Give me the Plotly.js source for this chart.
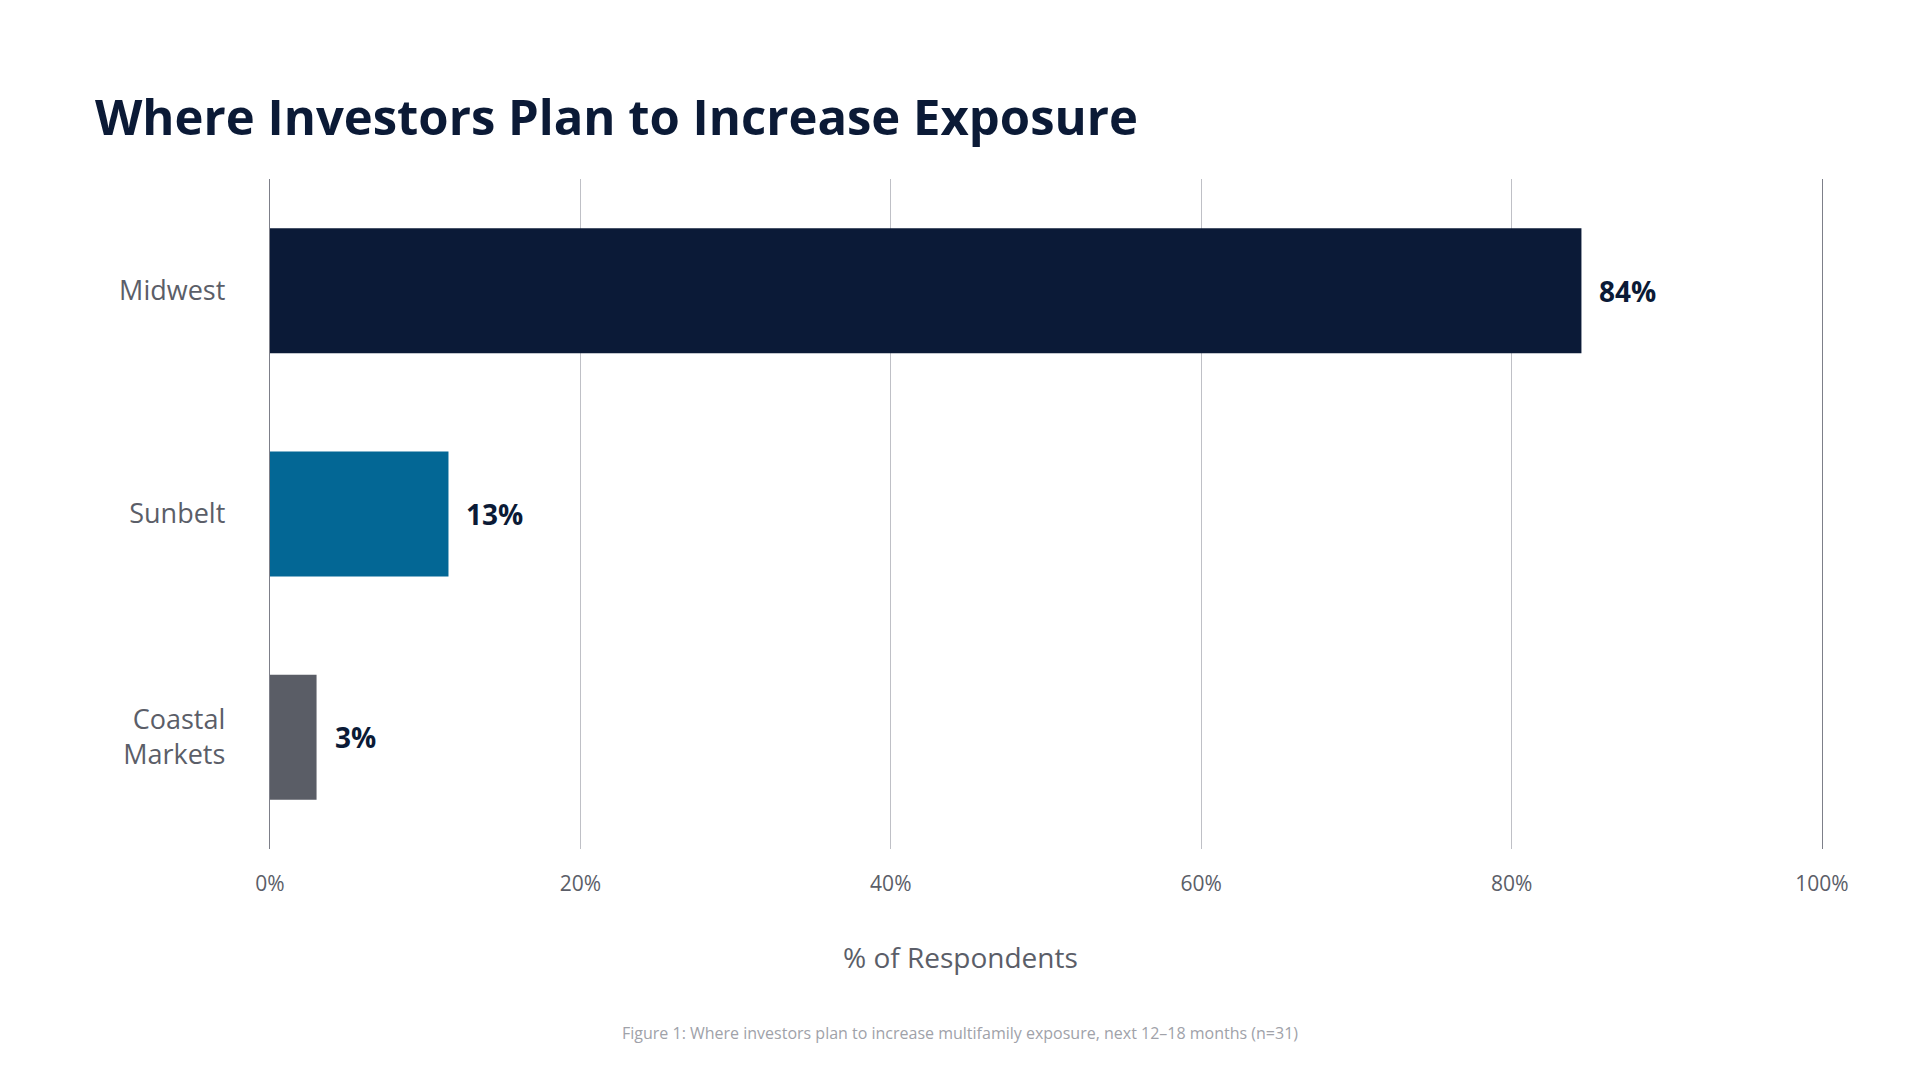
<!DOCTYPE html>
<html>
<head>
<meta charset="utf-8">
<script src="https://cdn.plot.ly/plotly-3.0.1.min.js"></script>
<style>
  html, body { margin: 0; padding: 0; background: #ffffff; }
  #chart { width: 1920px; height: 1080px; }
</style>
</head>
<body>
<div id="chart"></div>
<script>
// ---- data ----
const categories = ["Midwest", "Sunbelt", "Coastal<br>Markets"];
const barValues = [84.5, 11.5, 3];          // bar lengths as drawn (% of respondents)
const labelValues = [84, 13, 3];            // printed value labels
const barColors = ["#0B1A37", "#036795", "#5A5D66"];
const tickValues = [0, 20, 40, 60, 80, 100];
const tickLabels = ["0%", "20%", "40%", "60%", "80%", "100%"];

const titleText = "Where Investors Plan to Increase Exposure";
const xTitleText = "% of Respondents";
const captionText = "Figure 1: Where investors plan to increase multifamily exposure, next 12–18 months (n=31)";

const FONT = "Open Sans, Noto Sans, Liberation Sans, sans-serif";

const trace = {
  type: "bar",
  orientation: "h",
  x: barValues,
  y: categories,
  marker: { color: barColors, line: { width: 0 } },
  hoverinfo: "skip",
  showlegend: false
};

const valueAnnotations = categories.map((c, i) => ({
  x: barValues[i],
  y: c,
  xref: "x",
  yref: "y",
  text: labelValues[i] + "%",
  showarrow: false,
  xanchor: "left",
  yanchor: "middle",
  xshift: 16,
  font: { family: FONT, size: 28, color: "#0B1A36", weight: 700 }
}));

const layout = {
  width: 1920,
  height: 1080,
  paper_bgcolor: "#ffffff",
  plot_bgcolor: "#ffffff",
  margin: { l: 270, r: 98, t: 179, b: 231 },
  bargap: 0.44,
  title: {
    text: "<b>" + titleText + "</b>",
    x: 95 / 1920,
    xanchor: "left",
    xref: "container",
    y: 1 - 118 / 1080,
    yanchor: "middle",
    yref: "container",
    font: { family: FONT, size: 49, color: "#0B1A36" }
  },
  xaxis: {
    range: [0, 100],
    tickvals: tickValues,
    ticktext: tickLabels,
    showgrid: true,
    gridcolor: "#bfc0c6",
    gridwidth: 1.3,
    zeroline: false,
    showline: false,
    ticks: "",
    ticklabelstandoff: 20,
    tickfont: { family: FONT, size: 21, color: "#5B5E68" },
    fixedrange: true
  },
  yaxis: {
    autorange: "reversed",
    showgrid: false,
    zeroline: false,
    showline: true,
    mirror: true,
    linecolor: "#7d7f89",
    linewidth: 1.3,
    ticks: "",
    ticklabelstandoff: 38,
    tickfont: { family: FONT, size: 27, color: "#5B5E68" },
    fixedrange: true
  },
  annotations: valueAnnotations.concat([
    {
      text: xTitleText,
      xref: "paper", yref: "paper",
      x: (960 - 270) / 1552, y: -(957 - 849) / 670,
      xanchor: "center", yanchor: "middle",
      showarrow: false,
      font: { family: FONT, size: 28, color: "#5B5E68" }
    },
    {
      text: captionText,
      xref: "paper", yref: "paper",
      x: (960 - 270) / 1552, y: -(1033 - 849) / 670,
      xanchor: "center", yanchor: "middle",
      showarrow: false,
      font: { family: FONT, size: 16, color: "#A0A2A9" }
    }
  ])
};

Plotly.newPlot("chart", [trace], layout, { displayModeBar: false, staticPlot: true });
</script>
</body>
</html>
